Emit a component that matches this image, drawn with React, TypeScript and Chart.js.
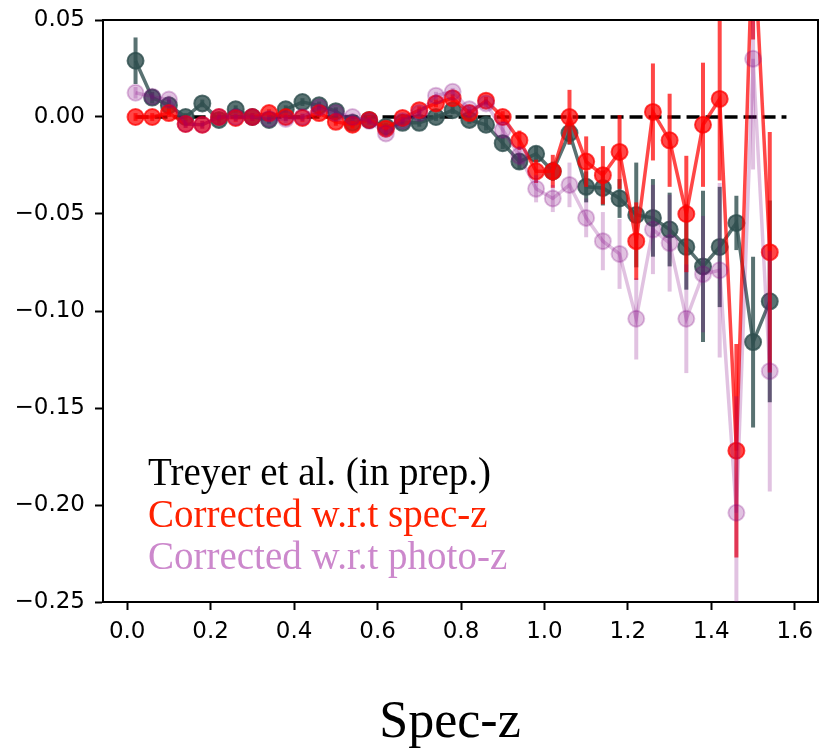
import React, { useEffect, useRef } from 'react';
import { Chart, registerables } from 'chart.js';

Chart.register(...registerables);

// ---- data ----
const zBins = [0.02, 0.06, 0.10, 0.14, 0.18, 0.22, 0.26, 0.30, 0.34, 0.38, 0.42, 0.46, 0.50, 0.54, 0.58, 0.62, 0.66, 0.70, 0.74, 0.78, 0.82, 0.86, 0.90, 0.94, 0.98, 1.02, 1.06, 1.10, 1.14, 1.18, 1.22, 1.26, 1.30, 1.34, 1.38, 1.42, 1.46, 1.50, 1.54];

const treyer = [0.029, 0.010, 0.006, 0.000, 0.007, -0.0015, 0.004, 0.000, -0.0015, 0.004, 0.0077, 0.006, 0.003, -0.003, -0.0015, -0.005, -0.003, -0.003, 0.000, 0.0035, -0.0015, -0.004, -0.0135, -0.023, -0.019, -0.028, -0.0083, -0.036, -0.0366, -0.042, -0.0505, -0.052, -0.058, -0.067, -0.077, -0.067, -0.0546, -0.116, -0.095];
const treyerErr = [0.012, 0.003, 0.003, 0.002, 0.002, 0.002, 0.002, 0.002, 0.002, 0.002, 0.002, 0.002, 0.002, 0.002, 0.002, 0.002, 0.002, 0.002, 0.002, 0.002, 0.002, 0.003, 0.003, 0.004, 0.004, 0.005, 0.006, 0.008, 0.009, 0.010, 0.027, 0.020, 0.019, 0.022, 0.039, 0.031, 0.014, 0.044, 0.052];

const specZ = [0.000, 0.000, 0.002, -0.0036, -0.004, 0.000, -0.0005, 0.000, 0.002, 0.000, -0.0005, 0.002, -0.0025, -0.004, -0.0015, -0.006, -0.0005, 0.0035, 0.007, 0.0097, 0.002, 0.0084, 0.000, -0.012, -0.028, -0.028, 0.000, -0.023, -0.030, -0.018, -0.064, 0.0026, -0.012, -0.050, -0.004, 0.0093, -0.172, 0.100, -0.0697];
const specZErr = [0.002, 0.002, 0.002, 0.002, 0.002, 0.002, 0.002, 0.002, 0.002, 0.002, 0.002, 0.002, 0.002, 0.002, 0.002, 0.002, 0.002, 0.002, 0.002, 0.002, 0.002, 0.002, 0.003, 0.005, 0.006, 0.0085, 0.014, 0.013, 0.015, 0.019, 0.020, 0.025, 0.024, 0.030, 0.032, 0.042, 0.055, 0.060, 0.062];

const photoZ = [0.0125, 0.0105, 0.009, -0.0036, -0.004, 0.000, 0.000, 0.000, -0.001, -0.001, 0.000, 0.005, 0.002, 0.000, -0.002, -0.0085, -0.002, 0.002, 0.011, 0.013, 0.004, 0.007, -0.0067, -0.020, -0.037, -0.042, -0.035, -0.052, -0.064, -0.0706, -0.104, -0.058, -0.065, -0.104, -0.081, -0.079, -0.204, 0.030, -0.131];
const photoZErr = [0.003, 0.002, 0.002, 0.002, 0.002, 0.002, 0.002, 0.002, 0.002, 0.002, 0.002, 0.002, 0.002, 0.002, 0.002, 0.002, 0.002, 0.002, 0.002, 0.002, 0.002, 0.002, 0.004, 0.005, 0.007, 0.007, 0.0115, 0.010, 0.015, 0.018, 0.021, 0.023, 0.025, 0.028, 0.030, 0.045, 0.060, 0.057, 0.062];

const refLineX = [0.02, 1.58];
const refLineY = [0, 0];

const xTicks = [0.0, 0.2, 0.4, 0.6, 0.8, 1.0, 1.2, 1.4, 1.6];
const yTicks = [-0.25, -0.20, -0.15, -0.10, -0.05, 0.00, 0.05];

const legendLabels = ['Treyer et al. (in prep.)', 'Corrected w.r.t spec-z', 'Corrected w.r.t photo-z'];
const legendColors = ['#000000', '#ff2200', '#cc88cc'];
const xTitle = 'Spec-z';

const DARK = 'rgba(47,79,79,0.8)';
const RED = 'rgba(255,0,0,0.72)';
const PURPLE = 'rgba(128,0,128,0.24)';

const toPoints = (xs: number[], ys: number[]) => xs.map((x, i) => ({ x, y: ys[i] }));

const errorBarPlugin = {
  id: 'errorBars',
  beforeDatasetDraw(chart: any, args: any) {
    const ds = chart.data.datasets[args.index];
    if (!ds.errors) return;
    const { ctx, chartArea } = chart;
    const xs = chart.scales.x;
    const ys = chart.scales.y;
    ctx.save();
    ctx.beginPath();
    ctx.rect(chartArea.left, chartArea.top, chartArea.right - chartArea.left, chartArea.bottom - chartArea.top);
    ctx.clip();
    ctx.strokeStyle = ds.borderColor;
    ctx.lineWidth = 4;
    ctx.lineCap = 'butt';
    ds.data.forEach((p: any, i: number) => {
      const e = ds.errors[i];
      const px = xs.getPixelForValue(p.x);
      ctx.beginPath();
      ctx.moveTo(px, ys.getPixelForValue(p.y - e));
      ctx.lineTo(px, ys.getPixelForValue(p.y + e));
      ctx.stroke();
    });
    ctx.restore();
  },
};

const decorPlugin = {
  id: 'decor',
  afterDatasetsDraw(chart: any) {
    const { ctx, chartArea } = chart;
    ctx.save();
    ctx.strokeStyle = '#000';
    ctx.lineWidth = 2;
    ctx.beginPath();
    ctx.moveTo(chartArea.left, chartArea.top);
    ctx.lineTo(chartArea.right - 1, chartArea.top);
    ctx.lineTo(chartArea.right - 1, chartArea.bottom);
    ctx.stroke();
    ctx.restore();
  },
  afterDraw(chart: any) {
    const { ctx } = chart;
    ctx.save();
    ctx.textAlign = 'left';
    ctx.textBaseline = 'alphabetic';
    ctx.font = '39px "Liberation Serif", "Times New Roman", serif';
    const baselines = [485, 527, 569];
    legendLabels.forEach((t, i) => {
      ctx.fillStyle = legendColors[i];
      ctx.fillText(t, 148, baselines[i]);
    });
    ctx.font = '52px "Liberation Serif", "Times New Roman", serif';
    ctx.fillStyle = '#000';
    ctx.textAlign = 'center';
    ctx.fillText(xTitle, 450, 737);
    ctx.restore();
  },
};

const fmtY = (v: number) => {
  const s = (Math.abs(v) < 1e-9 ? 0 : v).toFixed(2);
  return s.replace('-', '\u2212');
};

export default function App() {
  const ref = useRef<HTMLCanvasElement>(null);
  useEffect(() => {
    if (!ref.current) return;
    const seriesDs = (data: any[], errs: number[], color: string, order: number) => ({
      data,
      errors: errs,
      borderColor: color,
      backgroundColor: color,
      pointBackgroundColor: color,
      pointBorderColor: color,
      borderWidth: 3.5,
      pointRadius: 8,
      pointHoverRadius: 8,
      pointBorderWidth: 2,
      pointStyle: 'circle',
      tension: 0,
      showLine: true,
      order,
      clip: 0,
    });
    const chart = new Chart(ref.current, {
      type: 'line',
      data: {
        datasets: [
          {
            data: toPoints(refLineX, refLineY),
            borderColor: '#000',
            borderWidth: 3.5,
            borderDash: [13, 6],
            pointRadius: 0,
            pointHoverRadius: 0,
            showLine: true,
            order: 3,
            clip: 0,
          } as any,
          seriesDs(toPoints(zBins, treyer), treyerErr, DARK, 2),
          seriesDs(toPoints(zBins, specZ), specZErr, RED, 1),
          seriesDs(toPoints(zBins, photoZ), photoZErr, PURPLE, 0),
        ],
      },
      options: {
        animation: false,
        responsive: false,
        maintainAspectRatio: false,
        events: [],
        layout: { autoPadding: false, padding: { top: 20, right: 0, left: 0, bottom: 0 } },
        plugins: { legend: { display: false }, tooltip: { enabled: false } },
        scales: {
          x: {
            type: 'linear',
            min: -0.058,
            max: 1.658,
            afterBuildTicks: (s: any) => { s.ticks = xTicks.map((v) => ({ value: v })); },
            afterFit: (s: any) => { s.height = 146; s.paddingLeft = 0; s.paddingRight = 0; },
            grid: { drawOnChartArea: false, tickLength: 8, tickWidth: 2, color: '#000' },
            border: { display: true, color: '#000', width: 2 },
            ticks: {
              font: { family: 'DejaVu Sans', size: 23 },
              color: '#000',
              padding: 8,
              maxRotation: 0,
              autoSkip: false,
              callback: (v: any) => Number(v).toFixed(1),
            },
          },
          y: {
            type: 'linear',
            min: -0.25,
            max: 0.05,
            afterBuildTicks: (s: any) => { s.ticks = yTicks.map((v) => ({ value: v })); },
            afterFit: (s: any) => { s.width = 103; s.paddingTop = 0; s.paddingBottom = 0; },
            grid: { drawOnChartArea: false, tickLength: 8, tickWidth: 2, color: '#000' },
            border: { display: true, color: '#000', width: 2 },
            ticks: {
              font: { family: 'DejaVu Sans', size: 23 },
              color: '#000',
              padding: 10,
              autoSkip: false,
              callback: (v: any) => fmtY(Number(v)),
            },
          },
        },
      } as any,
      plugins: [errorBarPlugin, decorPlugin],
    });
    return () => chart.destroy();
  }, []);
  return (
    <div style={{ position: 'fixed', left: 0, top: 0, width: 819, height: 748, background: '#fff' }}>
      <canvas ref={ref} width={819} height={748} style={{ display: 'block', width: 819, height: 748 }} />
    </div>
  );
}
